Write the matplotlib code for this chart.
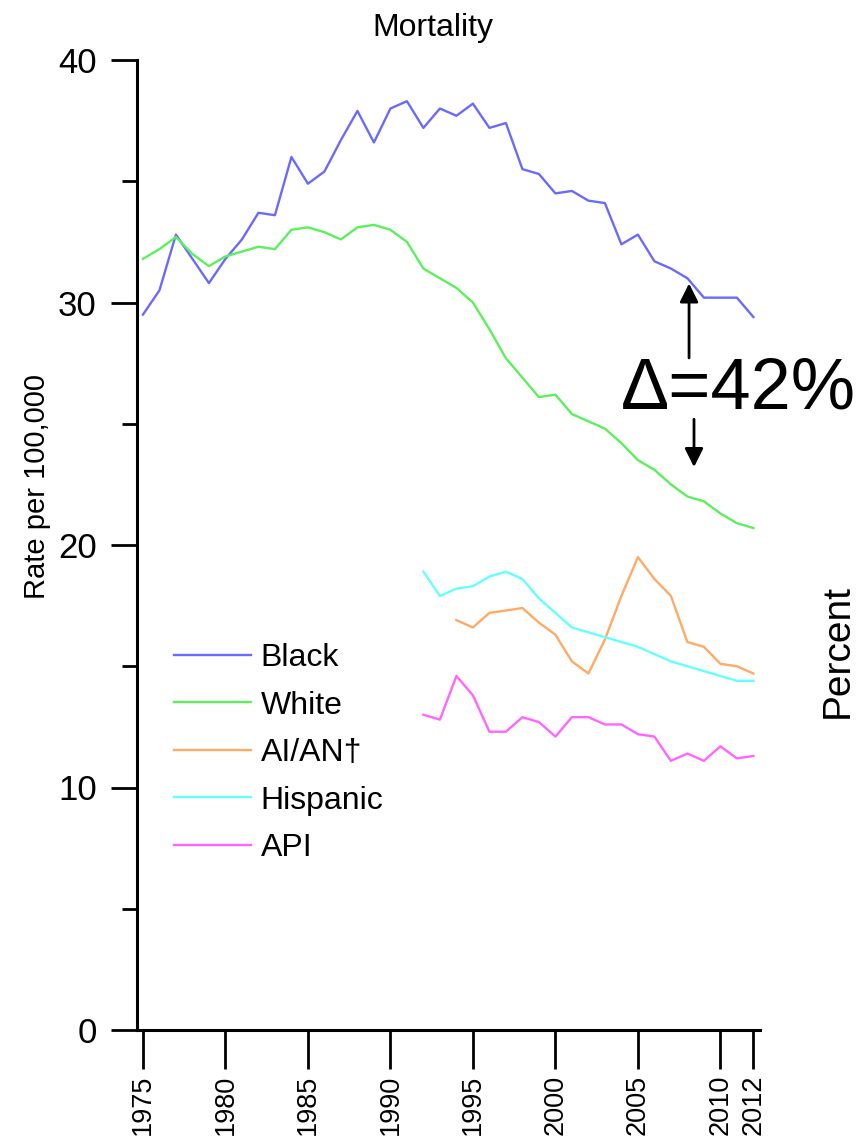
import matplotlib.pyplot as plt
from matplotlib.ticker import MultipleLocator

plt.rcParams['font.family'] = ['Liberation Sans', 'DejaVu Sans']

years_all = list(range(1975, 2013))
black = [29.5, 30.5, 32.8, 31.8, 30.8, 31.8, 32.6, 33.7, 33.6, 36.0,
         34.9, 35.4, 36.7, 37.9, 36.6, 38.0, 38.3, 37.2, 38.0, 37.7,
         38.2, 37.2, 37.4, 35.5, 35.3, 34.5, 34.6, 34.2, 34.1, 32.4,
         32.8, 31.7, 31.4, 31.0, 30.2, 30.2, 30.2, 29.4]
white = [31.8, 32.2, 32.7, 32.0, 31.5, 31.9, 32.1, 32.3, 32.2, 33.0,
         33.1, 32.9, 32.6, 33.1, 33.2, 33.0, 32.5, 31.4, 31.0, 30.6,
         30.0, 28.9, 27.7, 26.9, 26.1, 26.2, 25.4, 25.1, 24.8, 24.2,
         23.5, 23.1, 22.5, 22.0, 21.8, 21.3, 20.9, 20.7]

years_92 = list(range(1992, 2013))
hispanic = [18.9, 17.9, 18.2, 18.3, 18.7, 18.9, 18.6, 17.8, 17.2, 16.6,
            16.4, 16.2, 16.0, 15.8, 15.5, 15.2, 15.0, 14.8, 14.6, 14.4, 14.4]
api = [13.0, 12.8, 14.6, 13.8, 12.3, 12.3, 12.9, 12.7, 12.1, 12.9,
       12.9, 12.6, 12.6, 12.2, 12.1, 11.1, 11.4, 11.1, 11.7, 11.2, 11.3]

years_94 = list(range(1994, 2013))
aian = [16.9, 16.6, 17.2, 17.3, 17.4, 16.8, 16.3, 15.2, 14.7, 16.1,
        17.9, 19.5, 18.6, 17.9, 16.0, 15.8, 15.1, 15.0, 14.7]

xticks = [1975, 1980, 1985, 1990, 1995, 2000, 2005, 2010, 2012]

fig = plt.figure(figsize=(8.56, 11.42), dpi=100)
ax = fig.add_axes([137/856, 1 - 1030/1142, (760-137)/856, (1030-60)/1142])

lw = 1.7
ax.plot(years_all, black, color='#6a6aff', lw=lw, label='Black')
ax.plot(years_all, white, color='#5cf05c', lw=lw, label='White')
ax.plot(years_94, aian, color='#ffaa66', lw=lw, label='AI/AN\u2020')
ax.plot(years_92, hispanic, color='#66ffff', lw=lw, label='Hispanic')
ax.plot(years_92, api, color='#ff66ff', lw=lw, label='API')

ax.set_xlim(1974.64, 2012.4)
ax.set_ylim(0, 40)
ax.set_xticks(xticks)
ax.set_xticklabels([str(y) for y in xticks], rotation=90, fontsize=19.5)
ax.yaxis.set_major_locator(MultipleLocator(10))
ax.yaxis.set_minor_locator(MultipleLocator(5))
ax.tick_params(axis='y', which='major', length=19, width=2, labelsize=25, pad=10)
ax.tick_params(axis='y', which='minor', length=11, width=2)
ax.tick_params(axis='x', which='major', length=28, width=2, pad=4)

for s in ['top', 'right']:
    ax.spines[s].set_visible(False)
for s in ['left', 'bottom']:
    ax.spines[s].set_linewidth(2.2)

ax.set_ylabel('Rate per 100,000', fontsize=21)
ax.yaxis.set_label_coords(-0.138, 0.56)
fig.text(433/856, 1 - 28/1142, 'Mortality', fontsize=23, ha='center', va='center')

ax.legend(loc='upper left', bbox_to_anchor=(0.06, 0.399), frameon=False,
          fontsize=23, handlelength=2.4, handletextpad=0.3, labelspacing=0.55,
          borderpad=0, borderaxespad=0)

# delta annotation
ax.annotate('', xy=(2008.1, 30.9), xytext=(2008.1, 27.6),
            arrowprops=dict(arrowstyle='-|>', color='black', lw=2, mutation_scale=28))
ax.annotate('', xy=(2008.4, 23.1), xytext=(2008.4, 25.3),
            arrowprops=dict(arrowstyle='-|>', color='black', lw=2, mutation_scale=28))
ax.text(2003.95, 26.4, '\u0394=42%', fontsize=52, ha='left', va='center', clip_on=False)

fig.text(838/856, 0.43, 'Percent', fontsize=28, rotation=90, ha='center', va='center')

fig.savefig('out.png', dpi=100)
